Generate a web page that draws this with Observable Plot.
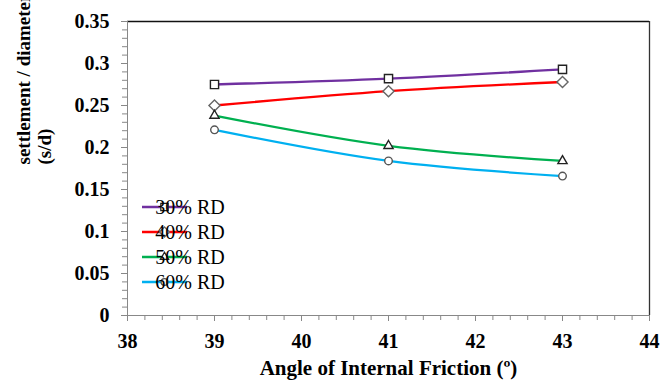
<!DOCTYPE html>
<html>
<head>
<meta charset="utf-8">
<script src="https://cdn.jsdelivr.net/npm/d3@7"></script>
<script src="https://cdn.jsdelivr.net/npm/@observablehq/plot@0.6"></script>
<style>body{margin:0;background:#fff}</style>
</head>
<body>
<div id="c"></div>
<script>
// Angle of internal friction (degrees) at which settlement ratios were measured
const angles = [39, 41, 43];
const seriesNames = ["30% RD", "40% RD", "50% RD", "60% RD"];
// settlement / footing diameter (s/d) for each relative density
const rd30 = [0.275, 0.282, 0.293];
const rd40 = [0.250, 0.267, 0.278];
const rd50 = [0.238, 0.202, 0.184];
const rd60 = [0.221, 0.184, 0.166];
const xTicks = [38, 39, 40, 41, 42, 43, 44];
const yTicks = [0, 0.05, 0.1, 0.15, 0.2, 0.25, 0.3, 0.35];

const lineColors = ["#7030A0", "#FF0000", "#00B050", "#00B0F0"];
const markerSymbols = ["square2", "diamond2", "triangle2", "circle"];
const markerStrokes = ["#222", "#666", "#222", "#555"];
const markerRadii = [5.2, 5, 4.4, 3.8];

const seriesValues = [rd30, rd40, rd50, rd60];
const rows = seriesNames.flatMap((name, i) =>
  angles.map((a, j) => ({series: name, angle: a, sd: seriesValues[i][j]}))
);

const serif = "Liberation Serif";
const fmtY = d => String(+d.toFixed(2));

const chart = Plot.plot({
  width: 670,
  height: 387,
  marginLeft: 127,
  marginRight: 21,
  marginTop: 21,
  marginBottom: 72,
  style: {fontFamily: serif, fontSize: "20px"},
  x: {domain: [38, 44]},
  y: {domain: [0, 0.35]},
  color: {domain: seriesNames, range: lineColors},
  marks: [
    // plot area frame: grey axes on the left/bottom, dark border top/right
    Plot.ruleY([0.35], {stroke: "#111", strokeWidth: 1.3}),
    Plot.ruleX([44], {stroke: "#333", strokeWidth: 1.3}),
    Plot.ruleX([38], {stroke: "#888"}),
    Plot.ruleY([0], {stroke: "#888"}),
    // minor ticks
    Plot.axisX(d3.range(38, 44.0001, 0.2), {tickSize: 5, stroke: "#888", text: null, label: null}),
    Plot.axisY(d3.range(0, 0.35001, 0.01), {tickSize: 5, stroke: "#888", text: null, label: null}),
    // major ticks with labels
    Plot.axisX(xTicks, {
      tickSize: 6, stroke: "#888", tickPadding: 12, label: null,
      fontSize: 20, fontWeight: "bold", fill: "#000", fontFamily: serif
    }),
    Plot.axisY(yTicks, {
      tickSize: 6, stroke: "#888", tickPadding: 12, label: null, tickFormat: fmtY,
      fontSize: 20, fontWeight: "bold", fill: "#000", fontFamily: serif
    }),
    // smoothed series lines
    Plot.line(rows, {
      x: "angle", y: "sd", z: "series", stroke: "series",
      curve: "catmull-rom", strokeWidth: 2.3
    }),
    // open markers, one style per series
    ...seriesNames.map((name, i) =>
      Plot.dot(rows.filter(d => d.series === name), {
        x: "angle", y: "sd", symbol: () => markerSymbols[i],
        r: markerRadii[i], stroke: markerStrokes[i], strokeWidth: 1.4, fill: "#fff"
      })
    ),
    // axis titles
    Plot.text(["Angle of Internal Friction (\u00ba)"], {
      frameAnchor: "bottom", dy: 59, fontSize: 21, fontWeight: "bold", fill: "#000", fontFamily: serif
    }),
    Plot.text(["settlement / diameter of footing\n(s/d)"], {
      frameAnchor: "left", dx: -94, dy: -4, rotate: -90, lineAnchor: "middle",
      lineHeight: 1.15, fontSize: 19, fontWeight: "bold", fill: "#000", fontFamily: serif
    })
  ]
});

document.getElementById("c").appendChild(chart);

// legend in the lower-left of the plot area, placed relative to the frame
const xs = chart.scale("x"), ys = chart.scale("y");
const legendLeft = xs.apply(38) + 15;
const legendTop = ys.apply(0.35) + 186;
const d3Symbols = [d3.symbolSquare2, d3.symbolDiamond2, d3.symbolTriangle2, d3.symbolCircle];
const legendItem = d3.select(chart).append("g")
  .selectAll("g").data(seriesNames).join("g")
  .attr("transform", (d, i) => `translate(${legendLeft},${legendTop + i * 25})`);
legendItem.append("line")
  .attr("x1", 0).attr("x2", 45).attr("y1", 0).attr("y2", 0)
  .attr("stroke", (d, i) => lineColors[i]).attr("stroke-width", 2.3);
legendItem.append("path")
  .attr("transform", "translate(22.5,0)")
  .attr("d", (d, i) => d3.symbol(d3Symbols[i], Math.PI * markerRadii[i] * markerRadii[i] * 0.8)())
  .attr("fill", "#fff")
  .attr("stroke", (d, i) => markerStrokes[i]).attr("stroke-width", 1.3);
legendItem.append("text")
  .attr("x", 48).attr("y", 0).attr("dy", "0.35em")
  .attr("font-family", "Liberation Serif").attr("font-size", 20)
  .text(d => d);
</script>
</body>
</html>
